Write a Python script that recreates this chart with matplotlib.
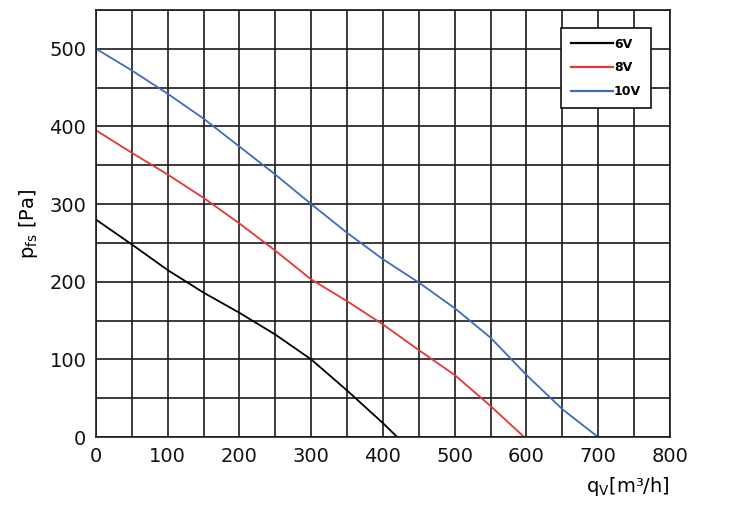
import numpy as np
import matplotlib.pyplot as plt

q_6v = [0, 50, 100, 150, 200, 250, 300, 350, 400, 420]
p_6v = [280, 248, 215, 186, 160, 132, 100, 60, 18, 0]

q_8v = [0, 50, 100, 150, 200, 250, 300, 350, 400, 450, 500, 550, 597]
p_8v = [395, 366, 338, 308, 275, 240, 203, 175, 145, 112, 80, 40, 0]

q_10v = [0, 50, 100, 150, 200, 250, 300, 350, 400, 450, 500, 550, 600, 650, 700]
p_10v = [500, 472, 442, 410, 374, 338, 300, 263, 229, 199, 166, 128, 80, 36, 0]

grid_x = np.arange(0, 801, 50)
grid_y = np.arange(0, 551, 50)

fig = plt.figure(figsize=(7.46, 5.21), dpi=100)
ax = fig.add_axes([0.1287, 0.161, 0.7693, 0.820])

ax.plot(q_6v, p_6v, color='black', lw=1.3, label='6V')
ax.plot(q_8v, p_8v, color='#e8333a', lw=1.3, label='8V')
ax.plot(q_10v, p_10v, color='#4169c0', lw=1.3, label='10V')

ax.set_xlim(0, 800)
ax.set_ylim(0, 550)
ax.set_xticks(grid_x)
ax.set_yticks(grid_y)
ax.set_xticklabels([str(v) if v % 100 == 0 else '' for v in grid_x])
ax.set_yticklabels([str(v) if v % 100 == 0 and v <= 500 else '' for v in grid_y])
ax.tick_params(length=0, labelsize=14, pad=7, colors='#111111')
ax.grid(True, color='#1a1a1a', lw=1.2)
for s in ax.spines.values():
    s.set_color('#1a1a1a')
    s.set_linewidth(1.2)

ax.set_ylabel(r'p$_{\mathregular{fs}}$ [Pa]', fontsize=14, labelpad=7)
ax.text(1.0, -0.115, r'q$_{\mathregular{V}}$[m³/h]', transform=ax.transAxes,
        ha='right', va='center', fontsize=14)

leg = ax.legend(loc='upper right', bbox_to_anchor=(0.967, 0.958), borderaxespad=0,
                fontsize=9, frameon=True, fancybox=False, edgecolor='#111111',
                handlelength=3.3, borderpad=0.8, labelspacing=0.85, handletextpad=0.1)
leg.get_frame().set_linewidth(1.2)
leg.get_frame().set_alpha(1)
for t in leg.get_texts():
    t.set_fontweight('bold')
for h in leg.get_lines():
    h.set_linewidth(1.6)

fig.savefig('out.png', dpi=100)
